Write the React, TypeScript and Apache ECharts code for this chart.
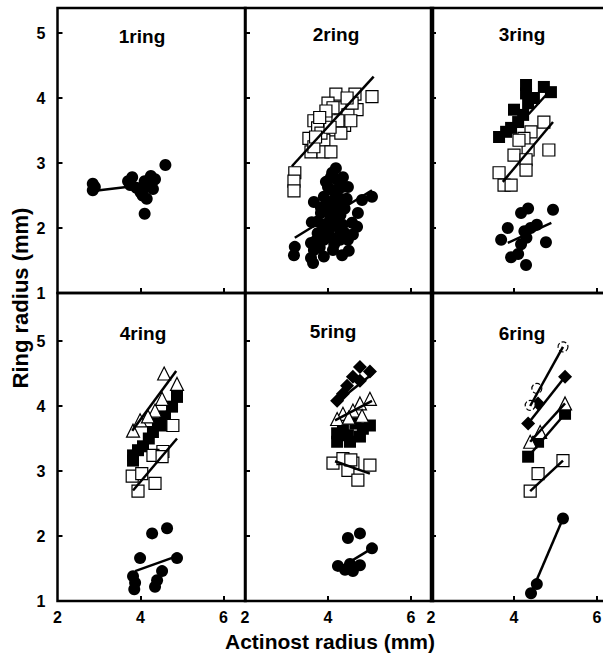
import React, { useEffect, useRef } from "react";
import * as echarts from "echarts";

// ---- tick labels ----
const xTickLabels = [2, 4, 6];
const yTickLabels = [1, 2, 3, 4, 5];
const panelTitles = ["1ring", "2ring", "3ring", "4ring", "5ring", "6ring"];

// ---- 1ring ----
const ring1Circles = [[2.85, 2.68], [2.85, 2.58], [2.9, 2.63], [3.7, 2.72], [3.75, 2.66], [3.8, 2.78], [3.9, 2.62], [4.0, 2.55], [4.05, 2.5], [4.1, 2.62], [4.1, 2.72], [4.15, 2.45], [4.2, 2.7], [4.25, 2.8], [4.3, 2.6], [4.35, 2.75], [4.1, 2.22], [4.6, 2.97]];
const ring1CircleFit = [[2.86, 2.57], [4.42, 2.69]];

// ---- 2ring ----
const ring2OpenSquares = [[4.19, 4.06], [4.65, 4.06], [5.06, 4.02], [4.0, 3.92], [4.31, 3.85], [4.7, 3.82], [4.02, 3.72], [4.4, 3.58], [3.66, 3.65], [3.75, 3.54], [4.17, 3.51], [3.54, 3.38], [3.9, 3.35], [3.59, 3.17], [3.88, 3.17], [4.07, 3.17], [3.2, 2.85], [3.18, 2.72], [3.18, 2.57], [4.48, 3.74], [4.58, 3.92], [4.12, 3.85], [4.24, 3.65], [3.83, 3.46], [3.66, 3.25], [4.46, 4.0], [3.95, 3.8], [4.31, 3.46], [3.7, 3.4], [4.05, 3.55], [3.8, 3.7], [4.55, 3.65]];
const ring2OpenSquareFit = [[3.13, 2.95], [5.1, 4.33]];
const ring2Circles = [[4.19, 2.92], [4.36, 2.78], [4.07, 2.78], [4.0, 2.63], [4.48, 2.63], [3.9, 2.48], [4.19, 2.48], [4.36, 2.38], [3.66, 2.4], [5.06, 2.48], [4.82, 2.43], [4.72, 2.23], [3.83, 2.23], [4.07, 2.17], [3.61, 2.09], [4.0, 2.02], [4.24, 2.09], [4.7, 2.02], [4.41, 1.92], [3.75, 1.92], [4.48, 1.82], [3.59, 1.77], [3.9, 1.82], [3.2, 1.71], [3.18, 1.58], [3.59, 1.54], [3.66, 1.66], [3.9, 1.56], [4.12, 1.66], [4.34, 1.58], [4.02, 1.89], [4.29, 1.82], [4.17, 2.32], [4.34, 2.63], [4.12, 2.58], [4.29, 1.97], [4.58, 2.08], [3.83, 2.31], [3.95, 2.71], [3.64, 1.46], [4.2, 2.75], [4.05, 2.4], [4.3, 2.2], [3.9, 2.05], [4.45, 2.45], [4.15, 1.75], [3.75, 2.1], [4.1, 2.85], [4.25, 2.6], [4.0, 2.3], [4.35, 2.05], [3.8, 1.7], [4.05, 2.0], [4.2, 2.15], [3.95, 2.35], [4.4, 2.3], [4.3, 2.45], [3.7, 1.8], [4.1, 1.85], [4.6, 1.9], [4.5, 1.65], [3.85, 1.95]];
const ring2CircleFit = [[3.2, 1.85], [5.06, 2.58]];

// ---- 3ring ----
const ring3FilledSquares = [[4.29, 4.2], [4.29, 4.07], [4.72, 4.17], [4.89, 4.09], [4.34, 3.92], [4.0, 3.82], [4.22, 3.74], [4.1, 3.63], [3.81, 3.48], [3.64, 3.4], [3.93, 3.54], [4.48, 4.0]];
const ring3FilledSquareFit = [[4.35, 3.75], [4.85, 4.1]];
const ring3OpenSquares = [[4.72, 3.63], [4.84, 3.2], [4.41, 3.48], [4.24, 3.38], [4.0, 3.12], [4.34, 3.2], [4.29, 3.05], [4.29, 2.89], [3.64, 2.85], [3.76, 2.66], [3.93, 2.66], [4.12, 3.35]];
const ring3OpenSquareFit = [[3.73, 2.71], [4.94, 3.63]];
const ring3Circles = [[3.85, 2.0], [3.69, 1.82], [4.17, 2.23], [4.34, 2.3], [4.94, 2.28], [4.77, 1.78], [4.29, 1.43], [3.93, 1.55], [4.17, 1.75], [4.4, 2.0], [4.25, 1.95], [4.1, 1.6], [4.3, 1.85], [4.55, 2.05]];
const ring3CircleFit = [[3.85, 1.77], [4.9, 2.08]];

// ---- 4ring ----
const ring4Triangles = [[4.57, 4.5], [4.88, 4.34], [3.82, 3.62], [3.99, 3.78], [4.35, 3.93], [4.52, 4.11], [4.18, 3.84]];
const ring4TriangleFit = [[3.8, 3.62], [4.86, 4.54]];
const ring4FilledSquares = [[3.82, 3.24], [3.94, 3.32], [4.06, 3.38], [4.3, 3.6], [4.42, 3.73], [4.59, 3.84], [4.76, 3.99], [4.88, 4.14], [3.82, 3.16], [4.2, 3.5], [4.5, 3.7]];
const ring4FilledSquareFit = [[3.82, 3.2], [4.88, 4.14]];
const ring4OpenSquares = [[4.78, 3.7], [4.54, 3.3], [4.3, 3.24], [3.8, 2.92], [4.03, 2.96], [3.94, 2.69], [4.35, 2.81], [4.52, 3.22]];
const ring4OpenSquareFit = [[3.82, 2.7], [4.88, 3.5]];
const ring4Circles = [[4.28, 2.04], [4.64, 2.12], [3.99, 1.66], [4.88, 1.66], [3.82, 1.38], [3.87, 1.28], [4.52, 1.46], [4.4, 1.32], [4.35, 1.22], [3.85, 1.18]];
const ring4CircleFit = [[3.87, 1.46], [4.88, 1.69]];

// ---- 5ring ----
const ring5Diamonds = [[4.77, 4.6], [5.01, 4.53], [4.6, 4.45], [4.77, 4.39], [4.46, 4.31], [4.36, 4.19], [4.22, 4.08]];
const ring5DiamondFit = [[4.17, 4.04], [5.08, 4.5]];
const ring5Triangles = [[5.01, 4.11], [4.77, 4.04], [4.6, 3.93], [4.82, 3.85], [4.36, 3.88], [4.22, 3.8], [4.5, 3.82]];
const ring5TriangleFit = [[4.17, 3.78], [5.06, 4.08]];
const ring5FilledSquares = [[4.22, 3.58], [4.22, 3.45], [4.48, 3.55], [4.53, 3.45], [4.77, 3.53], [5.01, 3.7], [4.84, 3.65], [4.36, 3.65], [4.66, 3.73]];
const ring5OpenSquares = [[4.12, 3.12], [4.36, 3.19], [4.6, 3.12], [5.01, 3.09], [4.48, 3.01], [4.72, 2.86], [4.55, 3.17]];
const ring5OpenSquareFit = [[4.17, 3.15], [5.01, 2.96]];
const ring5Circles = [[4.48, 1.97], [4.77, 2.04], [5.06, 1.81], [4.24, 1.54], [4.41, 1.48], [4.6, 1.46], [4.77, 1.55], [4.53, 1.57]];
const ring5CircleFit = [[4.29, 1.51], [5.06, 1.81]];

// ---- 6ring ----
const ring6OpenCircles = [[5.18, 4.91], [4.55, 4.27], [4.39, 4.01]];
const ring6OpenCircleFit = [[4.39, 4.0], [5.18, 4.91]];
const ring6Diamonds = [[5.23, 4.45], [4.58, 4.04], [4.34, 3.73]];
const ring6DiamondFit = [[4.34, 3.73], [5.23, 4.45]];
const ring6Triangles = [[5.23, 4.04], [4.63, 3.6], [4.39, 3.45]];
const ring6TriangleFit = [[4.39, 3.45], [5.23, 4.04]];
const ring6FilledSquares = [[5.23, 3.88], [4.58, 3.45], [4.34, 3.22]];
const ring6FilledSquareFit = [[4.34, 3.22], [5.23, 3.88]];
const ring6OpenSquares = [[5.18, 3.16], [4.58, 2.96], [4.39, 2.69]];
const ring6OpenSquareFit = [[4.39, 2.69], [5.18, 3.16]];
const ring6Circles = [[5.18, 2.27], [4.55, 1.26], [4.41, 1.12]];
const ring6CircleFit = [[4.41, 1.12], [5.18, 2.27]];

type Mk = "fc" | "os" | "fs" | "ot" | "fd" | "oc";
type Group = { mk: Mk; pts: number[][]; fit?: number[][] };

const panels: Group[][] = [
  [{ mk: "fc", pts: ring1Circles, fit: ring1CircleFit }],
  [
    { mk: "os", pts: ring2OpenSquares, fit: ring2OpenSquareFit },
    { mk: "fc", pts: ring2Circles, fit: ring2CircleFit },
  ],
  [
    { mk: "fs", pts: ring3FilledSquares, fit: ring3FilledSquareFit },
    { mk: "os", pts: ring3OpenSquares, fit: ring3OpenSquareFit },
    { mk: "fc", pts: ring3Circles, fit: ring3CircleFit },
  ],
  [
    { mk: "fs", pts: ring4FilledSquares, fit: ring4FilledSquareFit },
    { mk: "os", pts: ring4OpenSquares, fit: ring4OpenSquareFit },
    { mk: "ot", pts: ring4Triangles, fit: ring4TriangleFit },
    { mk: "fc", pts: ring4Circles, fit: ring4CircleFit },
  ],
  [
    { mk: "fs", pts: ring5FilledSquares },
    { mk: "os", pts: ring5OpenSquares, fit: ring5OpenSquareFit },
    { mk: "ot", pts: ring5Triangles, fit: ring5TriangleFit },
    { mk: "fd", pts: ring5Diamonds, fit: ring5DiamondFit },
    { mk: "fc", pts: ring5Circles, fit: ring5CircleFit },
  ],
  [
    { mk: "fs", pts: ring6FilledSquares, fit: ring6FilledSquareFit },
    { mk: "os", pts: ring6OpenSquares, fit: ring6OpenSquareFit },
    { mk: "ot", pts: ring6Triangles, fit: ring6TriangleFit },
    { mk: "fd", pts: ring6Diamonds, fit: ring6DiamondFit },
    { mk: "oc", pts: ring6OpenCircles, fit: ring6OpenCircleFit },
    { mk: "fc", pts: ring6Circles, fit: ring6CircleFit },
  ],
];

const FONT = "'Liberation Sans', Arial, Helvetica, sans-serif";

function markerStyle(mk: Mk) {
  switch (mk) {
    case "fc":
      return { symbol: "circle", symbolSize: 12, itemStyle: { color: "#000", opacity: 1 } };
    case "fs":
      return { symbol: "rect", symbolSize: 12, itemStyle: { color: "#000", opacity: 1 } };
    case "fd":
      return { symbol: "diamond", symbolSize: 14, itemStyle: { color: "#000", opacity: 1 } };
    case "os":
      return { symbol: "rect", symbolSize: 12, itemStyle: { color: "#fff", borderColor: "#000", borderWidth: 1.2, opacity: 1 } };
    case "ot":
      return { symbol: "triangle", symbolSize: 13, itemStyle: { color: "#fff", borderColor: "#000", borderWidth: 1.2, opacity: 1 } };
    case "oc":
      return { symbol: "circle", symbolSize: 10, itemStyle: { color: "#fff", borderColor: "#000", borderWidth: 1.2, borderType: "dashed", opacity: 1 } };
  }
}

export default function App() {
  const ref = useRef<HTMLDivElement>(null);
  useEffect(() => {
    if (!ref.current) return;
    const chart = echarts.init(ref.current, null, { renderer: "svg" });
    const colLeft = [57.5, 245, 431];
    const colW = 188;
    const rowTop = [8, 293];
    const rowH = [285, 308];
    const pxPerY = 65;
    const grids: any[] = [];
    const xAxes: any[] = [];
    const yAxes: any[] = [];
    const series: any[] = [];
    for (let i = 0; i < 6; i++) {
      const r = Math.floor(i / 3);
      const c = i % 3;
      grids.push({
        left: colLeft[c],
        top: rowTop[r],
        width: colW,
        height: rowH[r],
        show: true,
        borderColor: "#000",
        borderWidth: 2.5,
        backgroundColor: "transparent",
      });
      xAxes.push({
        gridIndex: i,
        type: "value",
        min: 2,
        max: 2 + colW / 41.5,
        axisLine: { show: false },
        splitLine: { show: false },
        axisTick: { show: true, inside: true, length: 5, lineStyle: { color: "#000", width: 2 }, customValues: [4, 6] },
        axisLabel: {
          show: r === 1,
          customValues: xTickLabels,
          color: "#000",
          fontWeight: "bold",
          fontSize: 16,
          fontFamily: FONT,
          margin: 8,
        },
      });
      yAxes.push({
        gridIndex: i,
        type: "value",
        min: 1,
        max: 1 + rowH[r] / pxPerY,
        axisLine: { show: false },
        splitLine: { show: false },
        axisTick: { show: true, inside: true, length: 5, lineStyle: { color: "#000", width: 2 }, customValues: [2, 3, 4, 5] },
        axisLabel: {
          show: c === 0,
          customValues: yTickLabels,
          color: "#000",
          fontWeight: "bold",
          fontSize: 16,
          fontFamily: FONT,
          margin: 12,
        },
      });
      panels[i].forEach((g) => {
        series.push({
          type: "scatter",
          xAxisIndex: i,
          yAxisIndex: i,
          data: g.pts,
          z: 2,
          ...markerStyle(g.mk),
        });
      });
      panels[i].forEach((g) => {
        if (!g.fit) return;
        series.push({
          type: "line",
          xAxisIndex: i,
          yAxisIndex: i,
          data: g.fit,
          symbol: "none",
          z: 5,
          lineStyle: { color: "#000", width: 2.5 },
        });
      });
    }
    const titlePos = [
      [142, 36], [336, 34], [522, 34],
      [143, 333], [333, 331], [522, 333],
    ];
    const graphic: any[] = panelTitles.map((t, i) => ({
      type: "text",
      x: titlePos[i][0],
      y: titlePos[i][1],
      z: 10,
      style: {
        text: t,
        fill: "#000",
        font: `bold 19px ${FONT}`,
        textAlign: "center",
        textVerticalAlign: "middle",
      },
    }));
    graphic.push({
      type: "text",
      x: 330,
      y: 641,
      style: {
        text: "Actinost radius (mm)",
        fill: "#000",
        font: `bold 21px ${FONT}`,
        textAlign: "center",
        textVerticalAlign: "middle",
      },
    });
    graphic.push({
      type: "text",
      x: 20,
      y: 298,
      rotation: Math.PI / 2,
      style: {
        text: "Ring radius (mm)",
        fill: "#000",
        font: `bold 22px ${FONT}`,
        textAlign: "center",
        textVerticalAlign: "middle",
      },
    });
    chart.setOption({
      animation: false,
      backgroundColor: "#fff",
      grid: grids,
      xAxis: xAxes,
      yAxis: yAxes,
      series,
      graphic,
    });
    return () => chart.dispose();
  }, []);
  return (
    <div
      style={{ position: "fixed", left: 0, top: 0, width: 603, height: 663, overflow: "hidden", background: "#fff" }}
    >
      <div ref={ref} style={{ width: 630, height: 663 }} />
    </div>
  );
}
